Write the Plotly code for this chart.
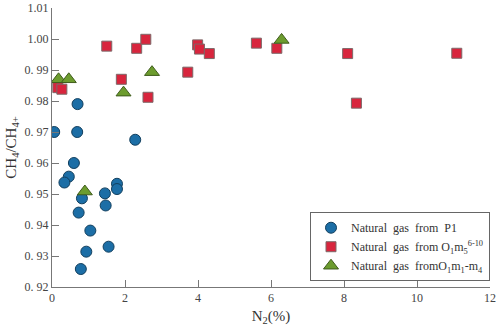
import plotly.graph_objects as go

# Natural gas from P1
p1_n2 = [0.70, 0.06, 0.69, 2.28, 0.60, 0.46, 0.34, 0.82, 0.73, 1.05, 0.94, 1.55, 1.45, 1.47, 1.78, 1.78, 0.79]
p1_ratio = [0.979, 0.970, 0.970, 0.9675, 0.960, 0.9556, 0.9537, 0.9486, 0.944, 0.9382, 0.9314, 0.933, 0.9502, 0.9463, 0.9533, 0.9516, 0.9258]

# Natural gas from O1m5 6-10
o5_n2 = [1.50, 2.32, 2.57, 1.90, 2.63, 0.16, 0.27, 3.72, 3.99, 4.04, 4.31, 5.60, 6.16, 8.10, 11.09, 8.34]
o5_ratio = [0.9977, 0.9970, 0.9999, 0.9870, 0.9812, 0.9843, 0.9838, 0.9893, 0.9981, 0.99675, 0.9953, 0.99866, 0.9970, 0.9953, 0.9954, 0.9793]

# Natural gas from O1m1-m4
o14_n2 = [0.18, 0.46, 2.74, 1.96, 6.29, 0.90]
o14_ratio = [0.987, 0.987, 0.9893, 0.9827, 0.9997, 0.9508]

nb = "\u00a0"
x_ticks = [0, 2, 4, 6, 8, 10, 12]
y_ticks = [0.92, 0.93, 0.94, 0.95, 0.96, 0.97, 0.98, 0.99, 1.00, 1.01]
y_ticktext = [f"0.{nb}92", f"0.{nb}93", f"0.{nb}94", f"0.{nb}95", f"0.{nb}96",
              f"0.{nb}97", f"0.{nb}98", f"0.{nb}99", "1.00", "1.01"]

names = [
    f"Natural{nb}{nb}gas{nb}{nb}from{nb}{nb}P1",
    f"Natural{nb}{nb}gas{nb}{nb}from{nb}O<sub>1</sub>m<sub>5</sub><sup>6-10</sup>",
    f"Natural{nb}{nb}gas{nb}{nb}fromO<sub>1</sub>m<sub>1</sub>-m<sub>4</sub>",
]

fig = go.Figure()
fig.add_trace(go.Scatter(x=p1_n2, y=p1_ratio, mode="markers", name=names[0],
                         marker=dict(symbol="circle", size=11, color="#1c6ea6",
                                     line=dict(color="#123f5e", width=1))))
fig.add_trace(go.Scatter(x=o5_n2, y=o5_ratio, mode="markers", name=names[1],
                         marker=dict(symbol="square", size=10, color="#d8253d",
                                     line=dict(color="#7d6868", width=1))))
fig.add_trace(go.Scatter(x=o14_n2, y=o14_ratio, mode="markers", name=names[2],
                         marker=dict(symbol="triangle-up", size=13, color="#6c9c2e",
                                     line=dict(color="#3f5c1c", width=1))))

font = "Liberation Serif, Times New Roman, serif"
fig.update_layout(
    width=498, height=326,
    margin=dict(l=52, r=8, t=8, b=39, autoexpand=False),
    paper_bgcolor="white", plot_bgcolor="white",
    font=dict(family=font, size=12, color="#333"),
    showlegend=True,
    legend=dict(x=1, xanchor="right", y=0.268, yanchor="top",
                bordercolor="#666", borderwidth=1, bgcolor="white",
                font=dict(family=font, size=12, color="#333"),
                tracegroupgap=2, itemwidth=30),
    xaxis=dict(range=[0, 12], tickvals=x_ticks, ticks="inside", ticklen=7,
               tickcolor="#777", showline=True, linecolor="#777", linewidth=1,
               showgrid=False, zeroline=False, automargin=False,
               tickfont=dict(family=font, size=12, color="#444"),
               title=dict(text="N<sub>2</sub>(%)", font=dict(family=font, size=15, color="#333"), standoff=6)),
    yaxis=dict(range=[0.92, 1.01], tickvals=y_ticks, ticktext=y_ticktext,
               ticks="inside", ticklen=7, tickcolor="#777",
               showline=True, linecolor="#777", linewidth=1,
               showgrid=False, zeroline=False, automargin=False,
               tickfont=dict(family=font, size=12, color="#444"),
               title=dict(text="CH<sub>4</sub>/CH<sub>4+</sub>", font=dict(family=font, size=15, color="#333"), standoff=4)),
)

fig.write_html("out.html", config={"displayModeBar": False},
               post_script="document.body.style.margin='0';document.body.style.padding='0';")
